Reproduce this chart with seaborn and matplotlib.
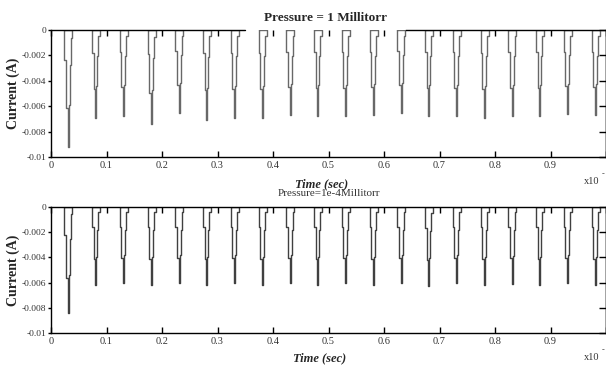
import numpy as np
import pandas as pd
import matplotlib
matplotlib.use("Agg")
import matplotlib.pyplot as plt
import seaborn as sns

# Pulse trough times (x axis in units of 1e-3 s)
pulse_times = [0.031, 0.081, 0.131, 0.181, 0.231, 0.281, 0.331, 0.381, 0.431, 0.481,
               0.531, 0.581, 0.631, 0.681, 0.731, 0.781, 0.831, 0.881, 0.931, 0.981]

# Peak current of each pulse (A)
peaks_1mtorr = [-0.0092, -0.0069, -0.00675, -0.0074, -0.0065, -0.0071, -0.0069, -0.0069, -0.0067, -0.0068,
                -0.0068, -0.0067, -0.0065, -0.0068, -0.0068, -0.0069, -0.0068, -0.0068, -0.0066, -0.0067]
peaks_1e4mtorr = [-0.0084, -0.0062, -0.0060, -0.0062, -0.0060, -0.0062, -0.0060, -0.0062, -0.0060, -0.0062,
                  -0.0060, -0.0062, -0.0060, -0.0063, -0.0060, -0.0062, -0.0061, -0.0062, -0.0060, -0.0062]

# Sampled outline of one discharge pulse: time offset from trough, fraction of peak
shape_dt = [-0.0070, -0.0070, -0.0040, -0.0040, -0.0009, -0.0009, 0.0009, 0.0009,
            0.0027, 0.0027, 0.0045, 0.0045, 0.0074, 0.0074, -0.0070]
shape_frac = [0.0, 0.26, 0.26, 0.67, 0.67, 1.0, 1.0, 0.64,
              0.64, 0.30, 0.30, 0.07, 0.07, 0.0, 0.0]

x_ticks = [0, 0.1, 0.2, 0.3, 0.4, 0.5, 0.6, 0.7, 0.8, 0.9, 1.0]
x_labels = ["0", "0.1", "0.2", "0.3", "0.4", "0.5", "0.6", "0.7", "0.8", "0.9", ""]
y_ticks = [0, -0.002, -0.004, -0.006, -0.008, -0.01]
y_labels = ["0", "-0.002", "-0.004", "-0.006", "-0.008", "-0.01"]


def pulse_frame(peaks):
    rows = []
    for k, (tc, pk) in enumerate(zip(pulse_times, peaks)):
        for order, (dt, fr) in enumerate(zip(shape_dt, shape_frac)):
            rows.append({"pulse": k, "order": order, "t": tc + dt, "i": pk * fr})
    return pd.DataFrame(rows)


sns.set_theme(style="ticks")
plt.rcParams["font.family"] = ["Liberation Serif", "DejaVu Serif"]
plt.rcParams["axes.linewidth"] = 1.0

W, H = 606, 366
fig = plt.figure(figsize=(W / 100, H / 100), dpi=100)
fig.patch.set_facecolor("white")

# axes boxes in pixels: (left, top, right, bottom)
boxes = [(51, 30, 606, 157), (51, 207, 606, 333)]
line_colors = ["#686868", "#404040"]
datasets = [peaks_1mtorr, peaks_1e4mtorr]

axes = []
for (l, t, r, b), peaks, lc in zip(boxes, datasets, line_colors):
    ax = fig.add_axes([l / W, 1 - b / H, (r - l) / W, (b - t) / H])
    df = pulse_frame(peaks)
    sns.lineplot(data=df, x="t", y="i", units="pulse", estimator=None, sort=False,
                 color=lc, linewidth=1.0, ax=ax, legend=False)
    ax.set_xlim(0, 1)
    ax.set_ylim(-0.01, 0)
    ax.set_xticks(x_ticks)
    ax.set_xticklabels(x_labels)
    ax.set_yticks(y_ticks)
    ax.set_yticklabels(y_labels)
    ax.tick_params(axis="x", direction="in", top=True, length=4, width=1,
                   labelsize=7.5, labelcolor="#333333", pad=3, color="black")
    ax.tick_params(axis="y", direction="out", length=2.5, width=1,
                   labelsize=6.8, labelcolor="#333333", pad=1, color="black")
    right = ax.secondary_yaxis("right")
    right.set_yticks(y_ticks)
    right.tick_params(direction="in", length=5, width=1, labelright=False, color="black")
    right.spines["right"].set_color("black")
    for s in ax.spines.values():
        s.set_color("black")
    ax.set_xlabel("")
    ax.set_ylabel("Current (A)", fontsize=10, fontweight="bold")
    ax.yaxis.set_label_coords(-(l - 20) / (r - l), 0.5)
    ax.set_facecolor("white")
    axes.append(ax)

ax1, ax2 = axes

# top frame of the upper panel is broken under the title
ax1.spines["top"].set_bounds(0.64, 1.0)
ax1.axhline(0, xmin=0, xmax=0.35, color="black", lw=1.0, clip_on=False)

fig.text(326 / W, 1 - 18 / H, "Pressure = 1 Millitorr", ha="center", va="center",
         fontsize=9.5, fontweight="bold")
fig.text(322 / W, 1 - 184 / H, "Time (sec)", ha="center", va="center",
         fontsize=9, fontweight="bold", style="italic")
fig.text(329 / W, 1 - 194 / H, "Pressure=1e-4Millitorr", ha="center", va="center",
         fontsize=8, color="#333333")
fig.text(320 / W, 1 - 358 / H, "Time (sec)", ha="center", va="center",
         fontsize=9, fontweight="bold", style="italic")

for y in (181, 357):
    fig.text(584 / W, 1 - y / H, "x10", ha="left", va="center", fontsize=7.5, color="#333333")
    fig.text(602 / W, 1 - (y - 7) / H, "-", ha="left", va="center", fontsize=6, color="#333333")

fig.savefig("out.png", dpi=100, facecolor="white")
